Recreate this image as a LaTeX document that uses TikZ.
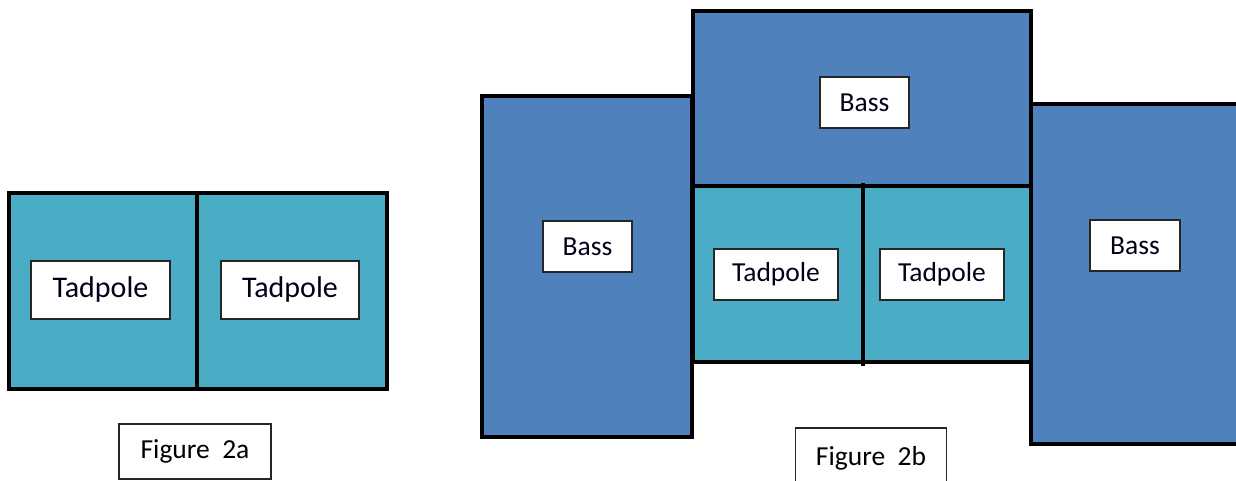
\documentclass[tikz,border=0pt]{standalone}
\usepackage{fontspec}
\setmainfont{Carlito}
\definecolor{bassblue}{HTML}{4F81BD}
\definecolor{tadteal}{HTML}{4BACC6}
\definecolor{boxedge}{HTML}{262626}
\begin{document}
\begin{tikzpicture}[x=1pt,y=-1pt,
  thickline/.style={line width=4pt,line join=miter},
  label/.style={draw=boxedge,line width=1.5pt,fill=white,inner sep=0pt,font=\fontsize{27.5}{32}\selectfont,text=black!90!blue},
  caption/.style={draw=black!85,line width=1.5pt,fill=white,inner sep=0pt,font=\fontsize{27.5}{32}\selectfont}]
\useasboundingbox (0,0) rectangle (1236,481);
% ---------- Figure 2a ----------
\fill[tadteal] (9,193) rectangle (387,389);
\draw[thickline] (9,193) rectangle (387,389);
\draw[thickline] (197,193) -- (197,389);
\node[label,minimum width=139pt,minimum height=58pt,font=\fontsize{30}{34}\selectfont] (ta1) at (100.5,290) {Tadpole};
\node[label,minimum width=138pt,minimum height=58pt,font=\fontsize{30}{34}\selectfont] (ta2) at (290,290) {Tadpole};
\node[caption,minimum width=152pt,minimum height=55pt] (capa) at (195,451.5) {Figure\ \ 2a};
% ---------- Figure 2b ----------
\fill[bassblue] (482,96) rectangle (692,437);
\fill[bassblue] (693,11) rectangle (1031,186);
\fill[tadteal] (693,186) rectangle (1031,362);
\fill[bassblue] (1031,104) rectangle (1242,444);
\draw[thickline] (482,96) rectangle (692,437);
\draw[thickline] (693,11) rectangle (1031,186);
\draw[thickline] (693,186) rectangle (1031,362);
\draw[thickline] (1242,104) -- (1031,104) -- (1031,444) -- (1242,444);
\draw[thickline] (863,183) -- (863,366);
\node[label,minimum width=89pt,minimum height=51pt] (bt) at (864.5,102.5) {Bass};
\node[label,minimum width=89pt,minimum height=51pt] (bl) at (587.5,246.5) {Bass};
\node[label,minimum width=90pt,minimum height=51pt] (br) at (1135,245.5) {Bass};
\node[label,minimum width=124pt,minimum height=51pt] (tb1) at (776,274.5) {Tadpole};
\node[label,minimum width=124pt,minimum height=51pt] (tb2) at (942,274.5) {Tadpole};
\node[caption,minimum width=151pt,minimum height=60pt] (capb) at (871,458) {Figure\ \ 2b};
\end{tikzpicture}
\end{document}
